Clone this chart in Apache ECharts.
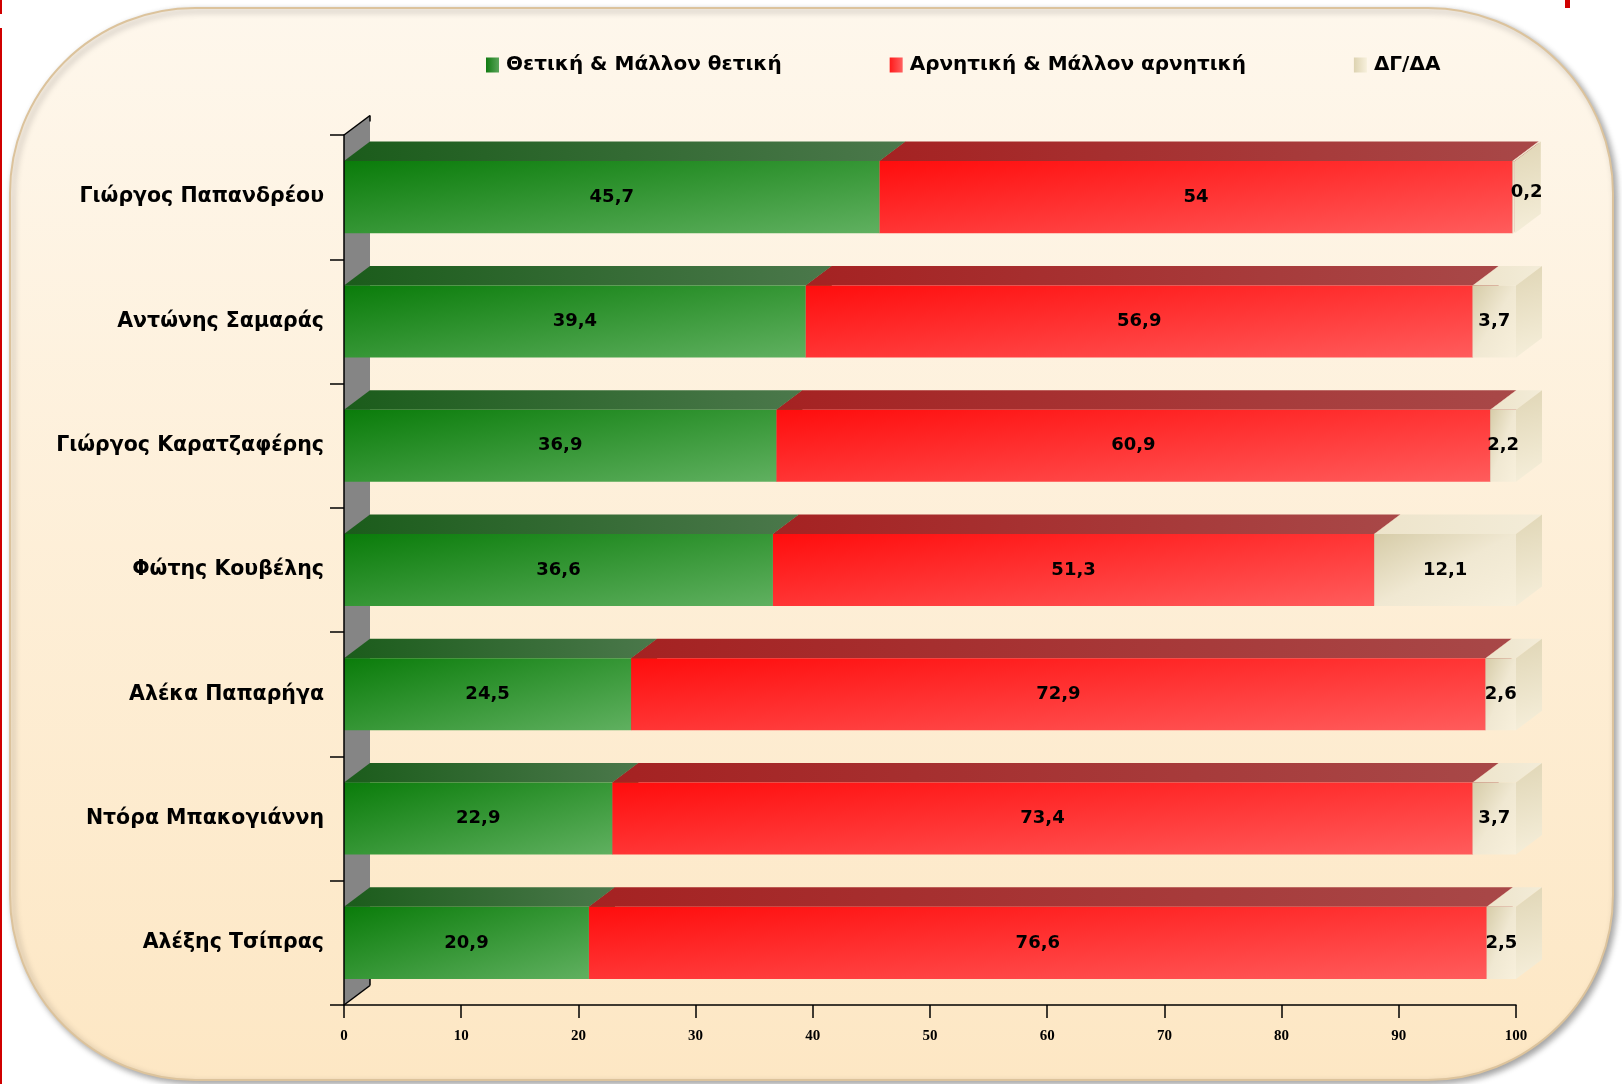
<!DOCTYPE html>
<html><head><meta charset="utf-8">
<script src="https://cdn.jsdelivr.net/npm/echarts/dist/echarts.min.js"></script>
<style>html,body{margin:0;padding:0;background:#fff;}#c{width:1622px;height:1084px;}</style>
</head><body><div id="c"></div>
<script>
// ---- data ----
const categories = ['Γιώργος Παπανδρέου','Αντώνης Σαμαράς','Γιώργος Καρατζαφέρης','Φώτης Κουβέλης','Αλέκα Παπαρήγα','Ντόρα Μπακογιάννη','Αλέξης Τσίπρας'];
const positive = [45.7, 39.4, 36.9, 36.6, 24.5, 22.9, 20.9];
const negative = [54, 56.9, 60.9, 51.3, 72.9, 73.4, 76.6];
const dkna     = [0.2, 3.7, 2.2, 12.1, 2.6, 3.7, 2.5];
const seriesNames = ['Θετική & Μάλλον θετική', 'Αρνητική & Μάλλον αρνητική', 'ΔΓ/ΔΑ'];
const axisMin = 0, axisMax = 100, axisInterval = 10;

// ---- styling ----
const G = echarts.graphic;
const DX = 26, DY = 19.5, BAR_RATIO = 0.58;
const styles = [
  { frontStops: [{offset:0,color:'#0a7c0a'},{offset:1,color:'#60b060'}],
    top: new G.LinearGradient(0,0,1,0,[{offset:0,color:'#1b5c1b'},{offset:1,color:'#4b784b'}]),
    side: '#2f6f2f',
    legend: new G.LinearGradient(0,0,1,0,[{offset:0,color:'#117a11'},{offset:1,color:'#5aa55a'}]) },
  { frontStops: [{offset:0,color:'#ff0d0d'},{offset:1,color:'#ff5c5c'}],
    top: new G.LinearGradient(0,0,1,0,[{offset:0,color:'#a52222'},{offset:1,color:'#a84848'}]),
    side: '#b03030',
    legend: new G.LinearGradient(0,0,1,0,[{offset:0,color:'#ff1a1a'},{offset:1,color:'#ff6060'}]) },
  { frontStops: [{offset:0,color:'#d6cca8'},{offset:0.5,color:'#f0e8d2'},{offset:1,color:'#f8f0dc'}],
    top: new G.LinearGradient(0,0,1,0,[{offset:0,color:'#ede4cb'},{offset:1,color:'#f3ecd8'}]),
    side: new G.LinearGradient(0,0,1,1,[{offset:0,color:'#e0d6b6'},{offset:1,color:'#f6efdb'}]),
    legend: new G.LinearGradient(0,0,1,0,[{offset:0,color:'#ddd3b1'},{offset:1,color:'#f7f0dc'}]) }
];

const valueSets = [positive, negative, dkna];
function buildData(k) {
  return categories.map((c, i) => {
    let start = 0;
    for (let j = 0; j < k; j++) start += valueSets[j][i];
    const v = valueSets[k][i];
    return [start, start + v, i, v];
  });
}

function fmt(v) { return String(v).replace('.', ','); }

// box-stretched diagonal gradient (isolines run corner to corner like Office fills)
function boxGradient(w, h, stops) {
  const d = w * w + h * h || 1;
  return new G.LinearGradient(0, 0, 2 * h * h / d, 2 * w * w / d, stops);
}

function makeRender(st) {
  return function (params, api) {
    const s = api.value(0), e = api.value(1), ci = api.value(2), v = api.value(3);
    const p0 = api.coord([s, ci]);
    const p1 = api.coord([e, ci]);
    const band = api.size([0, 1])[1];
    const h = band * BAR_RATIO;
    const x0 = p0[0], x1 = p1[0];
    const w = Math.max(x1 - x0, 0.5);
    const yT = p0[1] - h / 2, yB = p0[1] + h / 2;
    let lx = (x0 + x1) / 2, ly = p0[1];
    if (x1 - x0 < DX / 2) { lx += DX / 2; ly -= DY / 4; }
    return {
      type: 'group',
      children: [
        { type: 'polygon', shape: { points: [[x0, yT], [x1, yT], [x1 + DX, yT - DY], [x0 + DX, yT - DY]] }, style: { fill: st.top } },
        { type: 'polygon', shape: { points: [[x1, yT], [x1 + DX, yT - DY], [x1 + DX, yB - DY], [x1, yB]] }, style: { fill: st.side } },
        { type: 'rect', shape: { x: x0, y: yT, width: w, height: h }, style: { fill: boxGradient(w, h, st.frontStops) } },
        { type: 'text', z2: 10, style: { text: fmt(v), x: lx, y: ly, align: 'center', verticalAlign: 'middle',
            font: 'bold 18px "DejaVu Sans"', fill: '#000' } }
      ]
    };
  };
}

function wallRender(params, api) {
  const band = api.size([0, 1])[1];
  const top = api.coord([axisMin, 0]);
  const bot = api.coord([axisMin, categories.length - 1]);
  const x = top[0], y0 = top[1] - band / 2, y1 = bot[1] + band / 2;
  return {
    type: 'group',
    children: [
      { type: 'polygon', shape: { points: [[x, y0], [x + DX, y0 - DY], [x + DX, y1 - DY], [x, y1]] }, style: { fill: '#858585' } },
      { type: 'line', shape: { x1: x, y1: y0, x2: x + DX, y2: y0 - DY }, style: { stroke: '#000', lineWidth: 1.5 } },
      { type: 'line', shape: { x1: x + DX, y1: y0 - DY, x2: x + DX, y2: y0 - DY + 6 }, style: { stroke: '#000', lineWidth: 1.5 } },
      { type: 'line', shape: { x1: x, y1: y1, x2: x + DX, y2: y1 - DY }, style: { stroke: '#000', lineWidth: 1.5 } },
      { type: 'line', shape: { x1: x + DX, y1: y1 - DY, x2: x + DX, y2: y1 - DY - 8 }, style: { stroke: '#000', lineWidth: 1.5 } }
    ]
  };
}

const chart = echarts.init(document.getElementById('c'), null, { renderer: 'canvas' });
const labelFont = { fontFamily: 'DejaVu Sans', fontWeight: 'bold', color: '#000' };

chart.setOption({
  animation: false,
  backgroundColor: '#ffffff',
  graphic: [
    { type: 'rect', z: -10, shape: { x: 10, y: 8, width: 1603, height: 1072, r: 185 },
      style: { fill: new G.LinearGradient(0,0,0,1,[{offset:0,color:'#fef7ec'},{offset:1,color:'#fde7c4'}]),
               stroke: '#dcc39c', lineWidth: 2, shadowBlur: 6, shadowOffsetX: 3, shadowOffsetY: 3, shadowColor: 'rgba(0,0,0,0.35)' } },
    { type: 'rect', z: -5, shape: { x: 0, y: 28, width: 2, height: 1056 }, style: { fill: '#d00000' } },
    { type: 'rect', z: -5, shape: { x: 0, y: 0, width: 2, height: 14 }, style: { fill: '#d00000' } },
    { type: 'rect', z: -5, shape: { x: 1565, y: 0, width: 5, height: 8 }, style: { fill: '#d00000' } }
  ],
  legend: {
    data: seriesNames, top: 50, left: 481, itemGap: 108, itemWidth: 13, itemHeight: 15, icon: 'rect',
    selectedMode: false, textStyle: Object.assign({ fontSize: 20, padding: [0, 0, 0, 2] }, labelFont)
  },
  grid: { left: 344, right: 106, top: 135, bottom: 79, containLabel: false },
  xAxis: {
    type: 'value', min: axisMin, max: axisMax, interval: axisInterval, z: 10,
    axisLine: { show: true, lineStyle: { color: '#000', width: 1.5 } },
    axisTick: { show: true, length: 13, lineStyle: { color: '#000', width: 1.5 } },
    axisLabel: { margin: 24, fontFamily: 'Liberation Serif', fontWeight: 'bold', fontSize: 15, color: '#000' },
    splitLine: { show: false }
  },
  yAxis: {
    type: 'category', data: categories, inverse: true, z: 10,
    axisLine: { show: true, lineStyle: { color: '#000', width: 1.5 } },
    axisTick: { show: true, length: 14, lineStyle: { color: '#000', width: 1.5 } },
    axisLabel: Object.assign({ margin: 20, fontSize: 20.5 }, labelFont),
    splitLine: { show: false }
  },
  series: [
    { type: 'custom', name: '__wall', z: 1, silent: true, renderItem: wallRender, data: [[axisMin, 0]], encode: { x: 0, y: 1 } },
    ...[0, 1, 2].map(k => ({
      type: 'custom', name: seriesNames[k], z: 2 + k,
      itemStyle: { color: styles[k].legend },
      renderItem: makeRender(styles[k]),
      encode: { x: [0, 1], y: 2 },
      data: buildData(k)
    }))
  ]
});
</script>
</body></html>
